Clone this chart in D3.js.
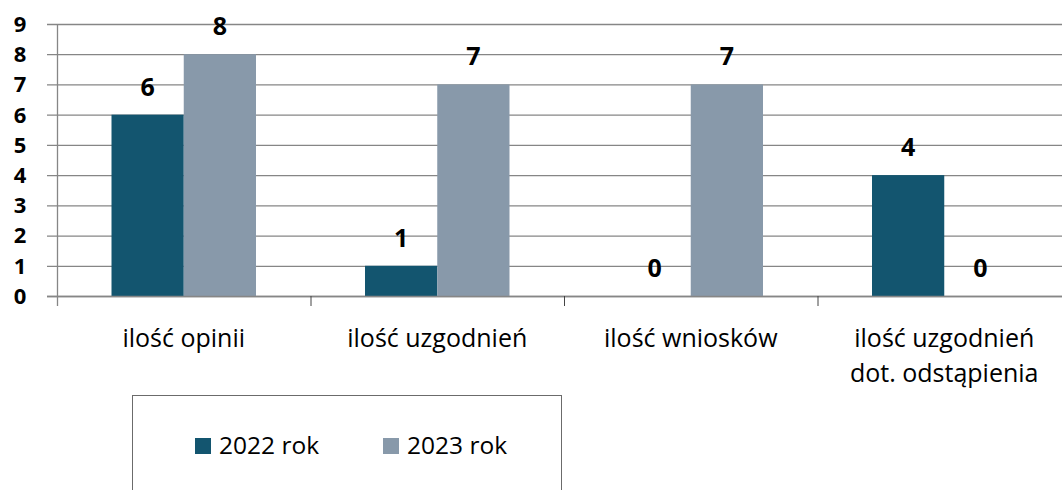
<!DOCTYPE html>
<html><head><meta charset="utf-8">
<script src="https://cdn.jsdelivr.net/npm/d3@7"></script>
<style>body{margin:0;background:#fff}svg{display:block}</style>
</head><body><svg id="c" width="1062" height="490"></svg>
<script>
const categories = [["ilość opinii"], ["ilość uzgodnień"], ["ilość wniosków"], ["ilość uzgodnień", "dot. odstąpienia"]];
const seriesNames = ["2022 rok", "2023 rok"];
const values2022 = [6, 1, 0, 4];
const values2023 = [8, 7, 7, 0];
const yTicks = [0, 1, 2, 3, 4, 5, 6, 7, 8, 9];
const colors = ["#13556f", "#8899aa"];

const svg = d3.select("#c");
const x0 = d3.scaleBand().domain(d3.range(categories.length)).range([57, 1071]).paddingInner(0).paddingOuter(0);
const y = d3.scaleLinear().domain([0, 9]).range([296, 24]);
const bw = x0.bandwidth() * 0.285;
const font = "'Open Sans', 'Noto Sans', sans-serif";

// gridlines
svg.append("g").selectAll("line").data(yTicks).join("line")
  .attr("x1", 47).attr("x2", 1062)
  .attr("y1", d => y(d) + 0.5).attr("y2", d => y(d) + 0.5)
  .attr("stroke", "#868686").attr("stroke-width", 1.3);

// y labels
svg.append("g").selectAll("text").data(yTicks).join("text")
  .attr("x", 20).attr("y", d => y(d)).attr("dy", "0.36em")
  .attr("text-anchor", "middle").attr("font-family", font)
  .attr("font-weight", "bold").attr("font-size", 22).attr("fill", "#000")
  .text(d => d);

// bars
const series = [values2022, values2023];
series.forEach((vals, si) => {
  svg.append("g").selectAll("rect").data(vals).join("rect")
    .attr("x", (d, i) => x0(i) + x0.bandwidth() / 2 - bw + si * bw)
    .attr("width", bw)
    .attr("y", d => y(d))
    .attr("height", d => y(0) - y(d))
    .attr("fill", colors[si]);
  svg.append("g").selectAll("text").data(vals).join("text")
    .attr("x", (d, i) => x0(i) + x0.bandwidth() / 2 - bw / 2 + si * bw)
    .attr("y", d => y(d) - 19)
    .attr("text-anchor", "middle").attr("font-family", font)
    .attr("font-weight", "bold").attr("font-size", 25).attr("fill", "#000")
    .text(d => d);
});

// axes
svg.append("line").attr("x1", 57.5).attr("x2", 57.5).attr("y1", 24).attr("y2", 306)
  .attr("stroke", "#868686").attr("stroke-width", 1.3);
svg.append("line").attr("x1", 47).attr("x2", 1062).attr("y1", y(0) + 0.5).attr("y2", y(0) + 0.5)
  .attr("stroke", "#868686").attr("stroke-width", 1.3);
svg.append("g").selectAll("line").data(d3.range(1, categories.length)).join("line")
  .attr("x1", d => x0(d) + 0.5).attr("x2", d => x0(d) + 0.5)
  .attr("y1", 296).attr("y2", 306).attr("stroke", "#444").attr("stroke-width", 1);

// category labels
const cl = svg.append("g").selectAll("text").data(categories).join("text")
  .attr("text-anchor", "middle").attr("font-family", font)
  .attr("font-size", 25).attr("fill", "#000");
cl.each(function(lines, i) {
  d3.select(this).selectAll("tspan").data(lines).join("tspan")
    .attr("x", x0(i) + x0.bandwidth() / 2)
    .attr("y", (d, j) => 347 + j * 35)
    .text(d => d);
});

// legend
svg.append("rect").attr("x", 132.5).attr("y", 395.5).attr("width", 429).attr("height", 120)
  .attr("fill", "none").attr("stroke", "#6b6b6b").attr("stroke-width", 1);
const lx = [195, 383];
seriesNames.forEach((n, i) => {
  svg.append("rect").attr("x", lx[i]).attr("y", 438).attr("width", 16).attr("height", 16).attr("fill", colors[i]);
  svg.append("text").attr("x", lx[i] + 24).attr("y", 454).attr("font-family", font)
    .attr("font-size", 24.5).attr("fill", "#000").text(n);
});
</script></body></html>
